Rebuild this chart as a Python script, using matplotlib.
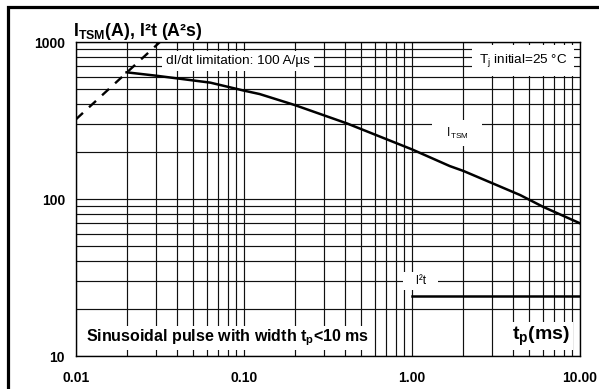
import numpy as np
import matplotlib.pyplot as plt
from matplotlib.patches import Rectangle

plt.rcParams['font.family'] = ['Liberation Sans', 'DejaVu Sans']
plt.rcParams['mathtext.fontset'] = 'custom'
plt.rcParams['mathtext.rm'] = 'Liberation Sans'
plt.rcParams['mathtext.bf'] = 'Liberation Sans:bold'
plt.rcParams['mathtext.it'] = 'Liberation Sans:italic'

# surge current curve (t in ms, I in A)
itsm_t = [0.02, 0.03, 0.063, 0.1, 0.124, 0.2, 0.41, 1.0, 1.68, 2.02, 4.4, 6.05, 10.0]
itsm_a = [641, 610, 551, 490, 466, 397, 303, 207, 162, 151, 106, 89, 70]

# dI/dt limitation (dashed)
didt_t = [0.01, 0.0316]
didt_a = [322, 1000]

# I2t
i2t_t = [1.0, 10.0]
i2t_v = [24, 24]

xticks = [0.01, 0.1, 1, 10]
xlabels = ['0.01', '0.10', '1.00', '10.00']
yticks = [10, 100, 1000]
ylabels = ['10', '100', '1000']

fig = plt.figure(figsize=(5.99, 3.89), dpi=100)
ax = fig.add_axes([76/599, 1-356/389, 504/599, 314/389])
ax.set_xscale('log')
ax.set_yscale('log')
ax.set_xlim(0.01, 10)
ax.set_ylim(10, 1000)

ax.plot(didt_t, didt_a, color='black', lw=1.7, dashes=(4, 3.5), zorder=3)
ax.plot(itsm_t, itsm_a, color='black', lw=1.8, zorder=3)
ax.plot(i2t_t, i2t_v, color='black', lw=1.8, zorder=3)

ax.grid(True, which='both', color='#111111', lw=0.85)
ax.set_axisbelow(True)
ax.set_xticks(xticks)
ax.set_xticklabels(xlabels, fontweight='bold', fontsize=10)
ax.set_yticks(yticks)
ax.set_yticklabels(ylabels, fontweight='bold', fontsize=10)
ax.tick_params(which='both', length=0)
ax.tick_params(axis='x', pad=11)
ax.tick_params(axis='y', pad=8)
for s in ax.spines.values():
    s.set_linewidth(1.0)

box = dict(facecolor='white', edgecolor='none', pad=3)
ax.text(0.0343, 757, 'dI/dt limitation: 100 A/µs', fontsize=9.7, va='center', ha='left', bbox=box)
ax.text(8.4, 757, r'T$_\mathrm{j}$ initial=25 °C', fontsize=9.7, va='center', ha='right',
        bbox=dict(facecolor='white', edgecolor='none', pad=5))
ax.text(1.85, 263, r'   I$_\mathrm{TSM}$   ', fontsize=8.4, va='center', ha='center',
        bbox=dict(facecolor='white', edgecolor='none', pad=4))
ax.text(1.127, 30, '   I²t   ', fontsize=8.4, va='center', ha='center',
        bbox=dict(facecolor='white', edgecolor='none', pad=2))
ax.text(0.01147, 13.0, r'Sinusoidal pulse with width t$_\mathbf{p}$<10 ms', fontsize=11.5,
        fontweight='bold', va='center', ha='left', bbox=dict(facecolor='white', edgecolor='none', pad=1.5))
ax.text(8.7, 13.4, r't$_\mathbf{p}$(ms)', fontsize=14, fontweight='bold',
        va='center', ha='right', bbox=dict(facecolor='white', edgecolor='none', pad=2))

fig.text(73/599, 1-31/389, r'I$_\mathbf{TSM}$(A), I²t (A²s)', fontsize=12.8,
         fontweight='bold', va='center', ha='left')

fig.add_artist(Rectangle((7.5/599, -0.1), 1.2, 1.1 - 7.5/389, transform=fig.transFigure,
                         fill=False, lw=2.3, edgecolor='black'))

fig.savefig('out.png', dpi=100)
